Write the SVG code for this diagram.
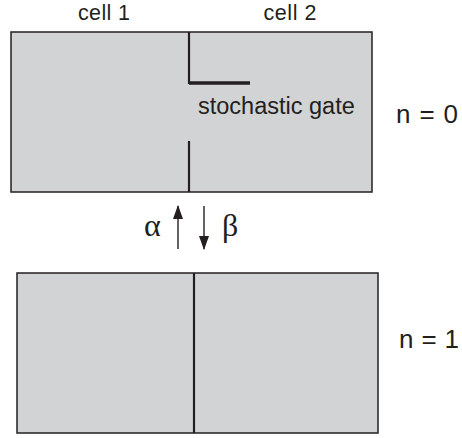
<svg xmlns="http://www.w3.org/2000/svg" width="462" height="438" viewBox="0 0 462 438">
<style>
.box{fill:#d1d3d4;stroke:#231f20;stroke-width:1.5}
.wall{stroke:#231f20;stroke-width:2.2;fill:none}
.lbl{font-family:"Liberation Sans",Arial,sans-serif;font-size:23.5px;fill:#231f20}
.top{font-family:"Liberation Sans",Arial,sans-serif;font-size:21.5px;fill:#231f20}
.nlbl{font-family:"Liberation Sans",Arial,sans-serif;font-size:26px;fill:#231f20}
.greek{font-family:"Liberation Serif","Times New Roman",serif;font-size:32px;fill:#231f20}
.arr{stroke:#231f20;stroke-width:1.4;fill:none}
</style>
<defs>
<marker id="ah" viewBox="0 0 14 10" refX="13" refY="5" markerWidth="14" markerHeight="10" orient="auto" markerUnits="userSpaceOnUse">
<path d="M0,0 L14,5 L0,10 Z" fill="#231f20"/>
</marker>
</defs>
<rect width="462" height="438" fill="#fff"/>
<g id="state0">
<rect class="box" x="11" y="32" width="361" height="160"/>
<path class="wall" d="M189,32 V83 H250"/>
<path d="M189,83 H250" stroke="#231f20" stroke-width="3.5"/>
<path class="wall" d="M189,141 V192"/>
<text class="top" x="104" y="19.5" text-anchor="middle" textLength="52">cell 1</text>
<text class="top" x="290" y="19.5" text-anchor="middle" textLength="53">cell 2</text>
<text class="lbl" x="198" y="114">stochastic gate</text>
<text class="nlbl" x="396" y="123" textLength="62">n = 0</text>
</g>
<g id="state1">
<rect class="box" x="17" y="273" width="361" height="160"/>
<path class="wall" d="M194,273 V433"/>
<text class="nlbl" x="399" y="348" textLength="60">n = 1</text>
</g>
<g id="connectors">
<line class="arr" x1="178" y1="249" x2="178" y2="206" marker-end="url(#ah)"/>
<line class="arr" x1="204" y1="206" x2="204" y2="249" marker-end="url(#ah)"/>
<text class="greek" x="144" y="236">α</text>
<text class="greek" x="222" y="236">β</text>
</g>
</svg>
